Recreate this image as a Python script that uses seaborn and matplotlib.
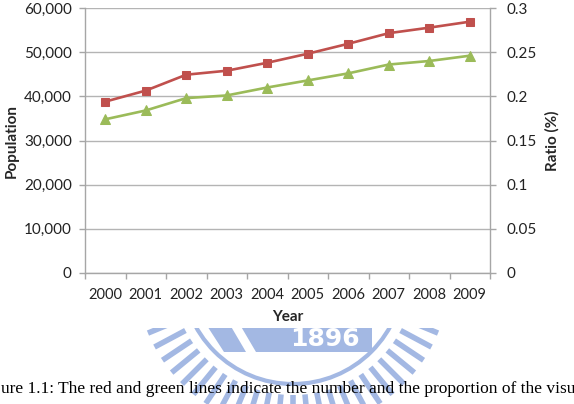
import numpy as np
import matplotlib
matplotlib.use("Agg")
import matplotlib.pyplot as plt
import seaborn as sns
from matplotlib.patches import Rectangle, Circle, Polygon

# ---- data ----
years = [2000, 2001, 2002, 2003, 2004, 2005, 2006, 2007, 2008, 2009]
population = [38800, 41300, 44900, 45800, 47600, 49650, 51900, 54300, 55550, 56900]
ratio = [0.174, 0.184, 0.198, 0.201, 0.210, 0.218, 0.226, 0.236, 0.240, 0.246]
pop_ticks = [0, 10000, 20000, 30000, 40000, 50000, 60000]
ratio_ticks = [0, 0.05, 0.1, 0.15, 0.2, 0.25, 0.3]
ratio_labels = ["0", "0.05", "0.1", "0.15", "0.2", "0.25", "0.3"]
caption = "ure 1.1: The red and green lines indicate the number and the proportion of the visu"

RED = "#C0504D"
GREEN = "#9BBB59"
GRID = "#b4b4b4"
SPINE = "#a6a6a6"
WM = "#a3b8e3"

sns.set_theme(style="white")
plt.rcParams["font.family"] = ["Lato", "DejaVu Sans"]

W, H = 574, 404
fig = plt.figure(figsize=(W / 100, H / 100), dpi=100)
fig.patch.set_facecolor("white")

# ---- background layer: watermark seal + caption ----
bg = fig.add_axes([0, 0, 1, 1], zorder=-5)
bg.set_xlim(0, W)
bg.set_ylim(H, 0)
bg.axis("off")
clip = Rectangle((0, 328), W, H, transform=bg.transData, visible=False)
bg.add_patch(clip)
cx, cy = 293, 273
r_in, r_out = 122, 157
for th in np.linspace(0, 2 * np.pi, 64, endpoint=False):
    x0, y0 = cx + r_in * np.cos(th), cy + r_in * np.sin(th)
    x1, y1 = cx + r_out * np.cos(th), cy + r_out * np.sin(th)
    ln, = bg.plot([x0, x1], [y0, y1], color=WM, lw=4.0, solid_capstyle="butt")
    ln.set_clip_path(clip)
ring = Circle((cx, cy), 111, fill=False, lw=3.0, ec=WM)
bg.add_patch(ring)
ring.set_clip_path(clip)
box = Polygon([(236, 318), (372, 318), (372, 352), (256, 352)], closed=True,
              fc=WM, ec="none")
bg.add_patch(box)
box.set_clip_path(clip)
diag = Polygon([(202, 318), (226, 318), (246, 352), (224, 352)], closed=True,
               fc=WM, ec="none")
bg.add_patch(diag)
diag.set_clip_path(clip)
t = bg.text(325, 339, "1896", color="white", fontsize=18, fontweight="bold",
            ha="center", va="center", family=["DejaVu Sans"])
t.set_clip_path(clip)

cap = bg.text(1, 393, caption, fontsize=13, va="baseline", ha="left",
              family=["Liberation Serif", "DejaVu Serif"], color="black")
fig.canvas.draw()
wpx = cap.get_window_extent().width
cap.set_fontsize(13 * 571 / wpx)

# ---- chart ----
left, right = 85 / W, 490 / W
bottom, top = 1 - 273 / H, 1 - 8 / H
ax = fig.add_axes([left, bottom, right - left, top - bottom])
ax.set_facecolor("none")
ax2 = ax.twinx()

sns.lineplot(x=years, y=population, ax=ax, color=RED, lw=1.9, marker="s",
             markersize=6.3, markeredgecolor=RED, zorder=4)
sns.lineplot(x=years, y=ratio, ax=ax2, color=GREEN, lw=1.9, marker="^",
             markersize=7, markeredgecolor=GREEN, zorder=4)

ax.set_xlim(years[0] - 0.5, years[-1] + 0.5)
ax.set_ylim(0, 60000)
ax2.set_ylim(0, 0.3)

ax.set_yticks(pop_ticks)
ax.set_yticklabels([f"{v:,}" for v in pop_ticks])
ax2.set_yticks(ratio_ticks)
ax2.set_yticklabels(ratio_labels)

ax.set_xticks(years)
ax.set_xticklabels([str(y) for y in years])
ax.set_xticks([y + 0.5 for y in [years[0] - 1] + years], minor=True)

ax.yaxis.grid(True, color=GRID, lw=1.0)
ax.xaxis.grid(False)
ax2.grid(False)
ax.set_axisbelow(True)

for a in (ax, ax2):
    for s in a.spines.values():
        s.set_visible(False)
ax.spines["left"].set_visible(True)
ax.spines["bottom"].set_visible(True)
ax2.spines["right"].set_visible(True)
for s in (ax.spines["left"], ax.spines["bottom"], ax2.spines["right"]):
    s.set_color(SPINE)
    s.set_linewidth(1.0)

ax.tick_params(axis="y", which="major", left=True, length=4.5, width=1, color=SPINE,
               pad=5, labelsize=11, labelcolor="#222222")
ax2.tick_params(axis="y", which="major", right=True, length=4, width=1, color=SPINE,
                pad=8, labelsize=11, labelcolor="#222222")
ax.tick_params(axis="x", which="major", length=0, pad=10.5, labelsize=10.5,
               labelcolor="#222222")
ax.tick_params(axis="x", which="minor", bottom=True, length=4, width=1, color=SPINE)

ax.set_xlabel("Year", fontsize=11, fontweight="bold", labelpad=6)
ax.set_ylabel("Population", fontsize=11, fontweight="bold", labelpad=4)
ax2.set_ylabel("Ratio (%)", fontsize=11, fontweight="bold", labelpad=6)

fig.savefig("out.png", dpi=100, facecolor="white")
